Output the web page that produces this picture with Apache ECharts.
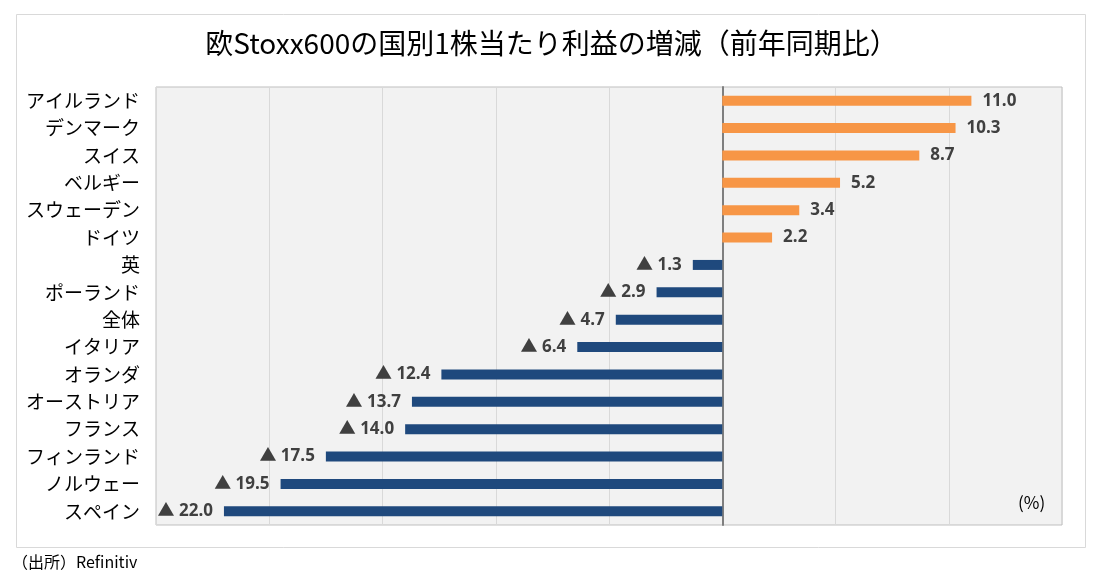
<!DOCTYPE html>
<html>
<head>
<meta charset="utf-8">
<script src="https://cdn.jsdelivr.net/npm/echarts@6/dist/echarts.min.js"></script>
<style>
  html, body { margin: 0; padding: 0; background: #ffffff; }
  #grafico { width: 1103px; height: 588px; }
</style>
</head>
<body>
<div id="grafico"></div>
<script>
// Dados
const paises = ['アイルランド', 'デンマーク', 'スイス', 'ベルギー', 'スウェーデン', 'ドイツ', '英', 'ポーランド',
    '全体', 'イタリア', 'オランダ', 'オーストリア', 'フランス', 'フィンランド', 'ノルウェー', 'スペイン'];
const variacao = [11.0, 10.3, 8.7, 5.2, 3.4, 2.2, -1.3, -2.9, -4.7, -6.4, -12.4, -13.7, -14.0, -17.5, -19.5, -22.0];

const fonteJP = '"Noto Sans CJK JP", "Noto Sans", sans-serif';

var chartDom = document.getElementById('grafico');
var myChart = echarts.init(chartDom);

// positivos em laranja à direita, negativos em azul com ▲ à esquerda
var dadosBarra = variacao.map(function (v) {
    return {
        value: v,
        itemStyle: { color: v >= 0 ? '#f79646' : '#1f497d' },
        label: { position: v >= 0 ? 'right' : 'left' }
    };
});

var option = {
    animation: false,
    title: {
        text: '欧Stoxx600の国別1株当たり利益の増減（前年同期比）',
        left: 'center',
        top: 24,
        textStyle: {
            fontFamily: fonteJP,
            fontSize: 28,
            fontWeight: 'normal',
            color: '#000000'
        }
    },
    grid: {
        left: 156,
        right: 41,
        top: 87,
        bottom: 63,
        show: true,
        backgroundColor: '#f2f2f2',
        borderColor: '#bfbfbf',
        borderWidth: 1
    },
    xAxis: {
        type: 'value',
        min: -25,
        max: 15,
        interval: 5,
        axisLabel: { show: false },
        axisTick: { show: false },
        axisLine: { show: false },
        splitLine: { lineStyle: { color: '#d9d9d9', width: 1 } }
    },
    yAxis: {
        type: 'category',
        inverse: true,
        data: paises,
        axisTick: { show: false },
        axisLine: { show: true, onZero: true, lineStyle: { color: '#7f7f7f', width: 2 } },
        axisLabel: {
            fontFamily: fonteJP,
            fontSize: 19,
            color: '#000000',
            margin: 16
        }
    },
    series: [
        {
            type: 'bar',
            data: dadosBarra,
            barWidth: 10,
            label: {
                show: true,
                distance: 11,
                fontFamily: '"Open Sans", "Noto Sans CJK JP", sans-serif',
                fontSize: 17,
                fontWeight: 'bold',
                color: '#404040',
                formatter: function (p) {
                    var v = p.value;
                    return v < 0 ? '▲ ' + Math.abs(v).toFixed(1) : v.toFixed(1);
                }
            }
        }
    ],
    graphic: [
        {
            type: 'rect',
            left: 14,
            top: 12,
            shape: { width: 1069, height: 533 },
            style: { fill: 'none', stroke: '#d9d9d9', lineWidth: 1 },
            silent: true,
            z: -10
        },
        {
            type: 'text',
            left: 1018,
            top: 494,
            style: {
                text: '(%)',
                font: '17px "Noto Sans CJK JP", sans-serif',
                fill: '#000000'
            }
        },
        {
            type: 'text',
            left: 12,
            top: 554,
            style: {
                text: '（出所）Refinitiv',
                font: '16px "Noto Sans CJK JP", sans-serif',
                fill: '#000000'
            }
        }
    ]
};

option && myChart.setOption(option);
</script>
</body>
</html>
